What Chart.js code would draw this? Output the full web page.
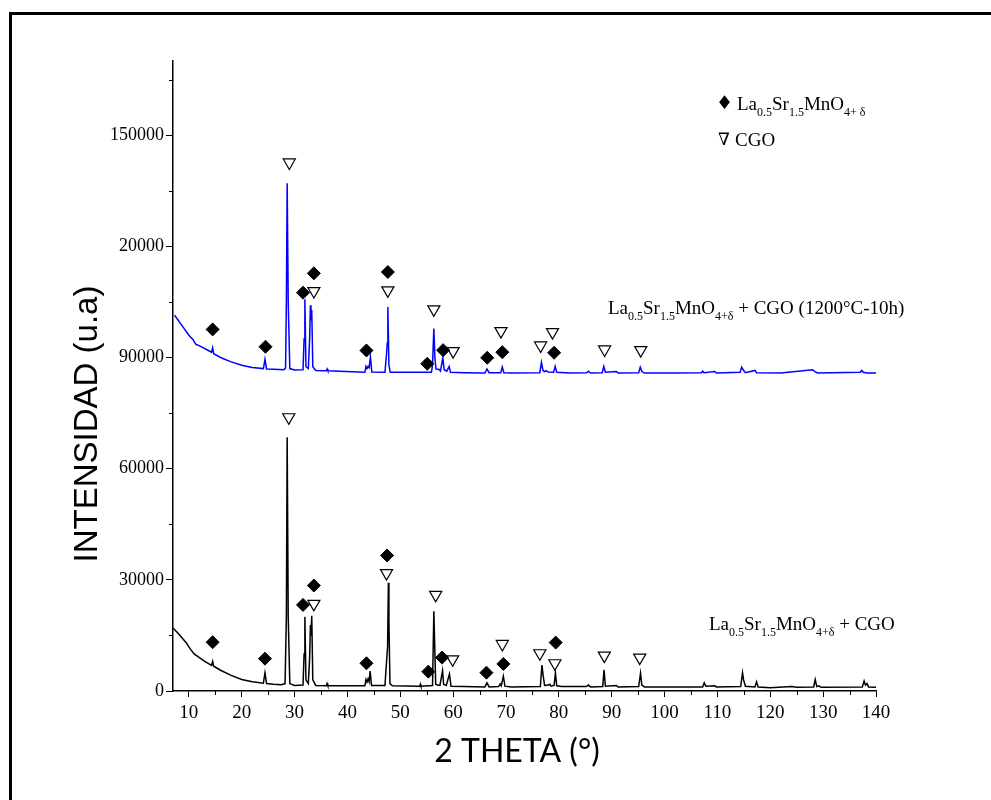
<!DOCTYPE html>
<html>
<head>
<meta charset="utf-8">
<script src="https://cdn.jsdelivr.net/npm/chart.js@4.4.1/dist/chart.umd.min.js"></script>
<style>
  html, body { margin: 0; padding: 0; background: #fff; }
  canvas { display: block; }
</style>
</head>
<body>
<canvas id="xrdChart" width="991" height="800"></canvas>
<script>
// X ray diffraction patterns
// bottom: La0.5Sr1.5MnO4+d + CGO (black)
const thetaBottom = [7.0, 8.0, 9.5, 10.3, 11.0, 12.0, 13.0, 14.3, 14.5, 14.7, 16.0, 18.0, 20.0, 22.0, 24.1, 24.4, 24.7,
    26.0, 27.5, 28.2, 28.45, 28.6, 28.8, 29.1, 30.0, 31.6, 31.8, 31.95, 32.15, 32.6, 32.85, 33.0, 33.1, 33.25, 33.45,
    34.0, 36.0, 36.15, 36.3, 43.3, 43.5, 43.7, 43.9, 44.1, 44.3, 44.55, 47.1, 47.4, 47.6, 47.75, 47.85, 48.05, 48.5,
    53.7, 53.8, 53.9, 56.1, 56.35, 56.5, 56.7, 57.0, 57.5, 58.0, 58.2, 58.7, 59.3, 59.6, 62.0, 66.0, 66.4, 66.8,
    68.6, 68.9, 69.1, 69.5, 69.8, 71.0, 76.5, 76.8, 77.0, 77.3, 78.0, 78.3, 78.5, 79.1, 79.35, 79.6, 80.5, 85.2,
    85.6, 86.0, 88.3, 88.55, 88.8, 90.9, 91.2, 95.1, 95.45, 95.7, 96.2, 102.0, 107.2, 107.5, 107.8, 109.5, 109.8,
    114.4, 114.75, 114.95, 115.3, 117.1, 117.4, 117.7, 120.0, 124.0, 125.0, 128.2, 128.5, 128.8, 129.2, 129.6,
    137.4, 137.75, 138.0, 138.3, 138.6, 140.0];
const countsBottom = [17000, 15500, 13000, 11300, 10000, 9000, 8000, 6900, 8000, 6700, 5600, 4200, 3100, 2500, 2100, 4900, 2000,
    1800, 1700, 2000, 20000, 68500, 20000, 2000, 1500, 1600, 10000, 20000, 3000, 2000, 9000, 17800, 15000, 20300, 3000,
    1500, 1400, 2000, 1400, 1400, 3100, 2400, 3300, 2500, 5400, 1500, 1500, 7900, 12000, 29200, 18700, 2000, 1400,
    1300, 1800, 1300, 1500, 21500, 13000, 1800, 1600, 1500, 5500, 1800, 1500, 4600, 1300, 1200, 1100, 2200, 1100,
    1200, 1900, 1400, 4000, 1300, 1100, 1200, 7000, 4500, 1500, 1600, 1800, 1300, 1500, 4900, 1400, 1200, 1200,
    1600, 1100, 1200, 5700, 1300, 1500, 1100, 1200, 4800, 1600, 1100, 1100, 1100, 2200, 1300, 1400, 1100,
    1200, 4900, 3000, 1300, 1100, 2500, 1100, 900, 1200, 1000, 1100, 3100, 1200, 1400, 1000,
    1100, 2700, 1600, 2000, 1100, 1000];

// top: La0.5Sr1.5MnO4+d + CGO (1200C-10h) (blue)
const thetaTop = [7.3, 8.5, 10.0, 10.8, 11.3, 12.5, 14.3, 14.5, 14.7, 16.0, 18.0, 20.0, 22.0, 24.1, 24.4, 24.7,
    26.0, 28.0, 28.3, 28.45, 28.6, 28.8, 29.1, 30.0, 31.6, 31.8, 31.95, 32.15, 32.6, 32.85, 33.0, 33.1, 33.25, 33.45,
    34.0, 36.0, 36.15, 36.3, 43.3, 43.5, 43.7, 43.9, 44.1, 44.35, 44.6, 47.1, 47.4, 47.55, 47.65, 47.85, 48.1,
    55.9, 56.1, 56.35, 56.55, 56.75, 57.3, 57.6, 58.05, 58.3, 58.8, 59.25, 59.5, 62.0, 66.0, 66.4, 66.8,
    69.0, 69.3, 69.6, 71.0, 76.4, 76.7, 77.0, 77.3, 77.6, 78.0, 79.0, 79.3, 79.6, 82.0, 85.3, 85.6, 86.0,
    88.2, 88.5, 88.8, 90.9, 91.2, 95.1, 95.4, 95.7, 96.2, 102.0, 107.0, 107.2, 107.5, 109.5, 109.8,
    114.3, 114.6, 114.9, 115.3, 117.1, 117.4, 122.0, 128.0, 128.5, 129.0, 137.0, 137.3, 137.6, 138.3, 140.0];
const countsTop = [101400, 99000, 96000, 94800, 93600, 92800, 91400, 92600, 91000, 90000, 88800, 87900, 87300, 87000, 89500, 86900,
    86800, 86700, 87200, 105000, 137000, 105000, 87000, 86600, 86700, 95000, 105700, 87500, 87000, 95000, 104100, 100000, 102800, 87500,
    86500, 86400, 86900, 86400, 86000, 87600, 87000, 87600, 87200, 90200, 86100, 86000, 91000, 94000, 103600, 88000, 86000,
    86000, 88000, 97800, 90000, 86900, 86800, 86300, 89900, 86700, 86300, 87600, 86000, 85900, 85800, 86900, 85900,
    85900, 87400, 85900, 85800, 85900, 88700, 86500, 86200, 86400, 86100, 86000, 87600, 86000, 85800, 85900, 86300, 85800,
    85900, 87600, 86000, 86200, 85800, 85900, 87400, 86200, 85800, 85800, 85900, 86300, 85900, 86200, 85800,
    86000, 87400, 86600, 85900, 86500, 85900, 85800, 86700, 86100, 85800, 86000, 86500, 86000, 85800, 85800];

// phase markers (diamond = La0.5Sr1.5MnO4+d, triangle = CGO)
const diamondTopX = [14.5, 24.5, 31.6, 33.65, 43.6, 47.65, 55.1, 58.1, 66.45, 69.3, 79.1];
const diamondTopY = [97570, 92890, 107490, 112700, 91890, 113060, 88300, 91980, 89920, 91430, 91270];
const triangleTopX = [29.0, 33.65, 47.65, 56.35, 60.0, 69.05, 76.55, 78.8, 88.65, 95.5];
const triangleTopY = [142620, 107920, 108100, 102970, 91700, 97110, 93240, 96840, 92160, 91980];
const diamondBottomX = [14.5, 24.4, 31.6, 33.65, 43.6, 47.5, 55.3, 57.9, 66.3, 69.5, 79.4];
const diamondBottomY = [13160, 8730, 23240, 28460, 7480, 36570, 5220, 9010, 4950, 7300, 13060];
const triangleBottomX = [28.9, 33.65, 47.4, 56.7, 59.9, 69.3, 76.4, 79.25, 88.6, 95.3];
const triangleBottomY = [73870, 23510, 31800, 25950, 8560, 12700, 10190, 7490, 9540, 9000];

// axis ticks (the picture prints 20000 at the 120000 mark)
const xTickValues = [10, 20, 30, 40, 50, 60, 70, 80, 90, 100, 110, 120, 130, 140];
const yTickValues = [0, 30000, 60000, 90000, 120000, 150000];
const yTickLabels = ['0', '30000', '60000', '90000', '20000', '150000'];

const pts = (xs, ys) => xs.map((x, i) => ({ x: x, y: ys[i] }));

const serif = '"Liberation Serif", "Times New Roman", serif';

// draws La0.5Sr1.5MnO4+d style formula with subscripts, returns end x
function drawFormula(ctx, x, y, parts, size) {
    ctx.textBaseline = 'alphabetic';
    ctx.textAlign = 'left';
    parts.forEach(p => {
        if (p[1]) {
            ctx.font = Math.round(size * 0.63) + 'px ' + serif;
            ctx.fillText(p[0], x, y + 6);
        } else {
            ctx.font = size + 'px ' + serif;
            ctx.fillText(p[0], x, y);
        }
        x += ctx.measureText(p[0]).width;
    });
    return x;
}

const decorPlugin = {
    id: 'decor',
    beforeDraw(chart) {
        const ctx = chart.ctx;
        ctx.save();
        ctx.fillStyle = '#fff';
        ctx.fillRect(0, 0, chart.width, chart.height);
        // frame of the figure (only top and left are visible)
        ctx.fillStyle = '#000';
        ctx.fillRect(9, 12, chart.width - 9, 3);
        ctx.fillRect(9, 12, 3, chart.height - 12);
        ctx.restore();
    },
    afterDraw(chart) {
        const ctx = chart.ctx;
        const xs = chart.scales.x, ys = chart.scales.y;
        const area = chart.chartArea;
        ctx.save();
        // minor ticks
        ctx.strokeStyle = '#000';
        ctx.lineWidth = 1;
        ctx.beginPath();
        for (let v = 15; v < 140; v += 10) {
            const px = Math.round(xs.getPixelForValue(v)) + 0.5;
            ctx.moveTo(px, area.bottom);
            ctx.lineTo(px, area.bottom + 4);
        }
        for (let v = 15000; v < 170000; v += 30000) {
            const py = Math.round(ys.getPixelForValue(v)) + 0.5;
            ctx.moveTo(area.left, py);
            ctx.lineTo(area.left - 4, py);
        }
        ctx.stroke();

        ctx.fillStyle = '#000';
        const formula = [['La', 0], ['0.5', 1], ['Sr', 0], ['1.5', 1], ['MnO', 0], ['4+δ', 1]];
        // legend
        ctx.font = '19px "DejaVu Sans", sans-serif';
        ctx.textBaseline = 'middle';
        ctx.fillText('♦', 716, 104);
        drawFormula(ctx, 737, 110, [['La', 0], ['0.5', 1], ['Sr', 0], ['1.5', 1], ['MnO', 0], ['4+ δ', 1]], 19);
        ctx.textBaseline = 'middle';
        ctx.font = '17px "DejaVu Serif", serif';
        ctx.fillText('∇', 718, 141);
        ctx.font = '19px ' + serif;
        ctx.fillText('CGO', 735, 141);
        // curve labels
        let end = drawFormula(ctx, 608, 314, formula, 19);
        ctx.font = '19px ' + serif;
        ctx.fillText(' + CGO (1200°C-10h)', end, 314);
        end = drawFormula(ctx, 709, 630, formula, 19);
        ctx.font = '19px ' + serif;
        ctx.fillText(' + CGO', end, 630);

        // axis titles
        ctx.textAlign = 'center';
        ctx.textBaseline = 'middle';
        ctx.font = '32px Lato, "Liberation Sans", sans-serif';
        ctx.fillText('2 THETA (°)', 517, 752);
        ctx.translate(88, 424);
        ctx.rotate(-Math.PI / 2);
        ctx.font = '33px "Liberation Sans", Arial, sans-serif';
        ctx.fillText('INTENSIDAD (u.a)', 0, 0);
        ctx.restore();
    }
};

const lineStyle = { showLine: true, pointRadius: 0, borderWidth: 1.5, tension: 0, order: 2 };
const diamondStyle = { pointStyle: 'rectRot', pointRadius: 6.5, backgroundColor: '#000', borderColor: '#000', borderWidth: 1, showLine: false, order: 0 };
const triangleStyle = { pointStyle: 'triangle', rotation: 180, pointRadius: 7, backgroundColor: '#fff', borderColor: '#000', borderWidth: 1.2, showLine: false, order: 0 };

new Chart(document.getElementById('xrdChart').getContext('2d'), {
    type: 'scatter',
    data: {
        datasets: [
            Object.assign({ label: 'La0.5Sr1.5MnO4+δ + CGO', data: pts(thetaBottom, countsBottom), borderColor: '#000' }, lineStyle),
            Object.assign({ label: 'La0.5Sr1.5MnO4+δ + CGO (1200°C-10h)', data: pts(thetaTop, countsTop), borderColor: '#0000ff' }, lineStyle),
            Object.assign({ label: 'LSM top', data: pts(diamondTopX, diamondTopY) }, diamondStyle),
            Object.assign({ label: 'CGO top', data: pts(triangleTopX, triangleTopY) }, triangleStyle),
            Object.assign({ label: 'LSM bottom', data: pts(diamondBottomX, diamondBottomY) }, diamondStyle),
            Object.assign({ label: 'CGO bottom', data: pts(triangleBottomX, triangleBottomY) }, triangleStyle)
        ]
    },
    options: {
        responsive: false,
        animation: false,
        devicePixelRatio: 1,
        layout: { padding: { top: 61, right: 115, left: 0, bottom: 0 } },
        plugins: { legend: { display: false }, tooltip: { enabled: false } },
        scales: {
            x: {
                type: 'linear',
                min: 7,
                max: 140,
                afterBuildTicks(scale) { scale.ticks = xTickValues.map(v => ({ value: v })); },
                ticks: { autoSkip: false, color: '#000', padding: 5, maxRotation: 0, font: { family: serif, size: 19 } },
                grid: { drawOnChartArea: false, tickLength: 6, tickColor: '#000', tickWidth: 1 },
                border: { color: '#000', width: 1.5 },
                afterFit(scale) { scale.height = 109; }
            },
            y: {
                min: 0,
                max: 170000,
                afterBuildTicks(scale) { scale.ticks = yTickValues.map(v => ({ value: v })); },
                ticks: {
                    autoSkip: false, color: '#000', padding: 2, font: { family: serif, size: 18 },
                    callback: (v, i) => yTickLabels[i]
                },
                grid: { drawOnChartArea: false, tickLength: 7, tickColor: '#000', tickWidth: 1 },
                border: { color: '#000', width: 1.5 },
                afterFit(scale) { scale.width = 173; }
            }
        }
    },
    plugins: [decorPlugin]
});
</script>
</body>
</html>
